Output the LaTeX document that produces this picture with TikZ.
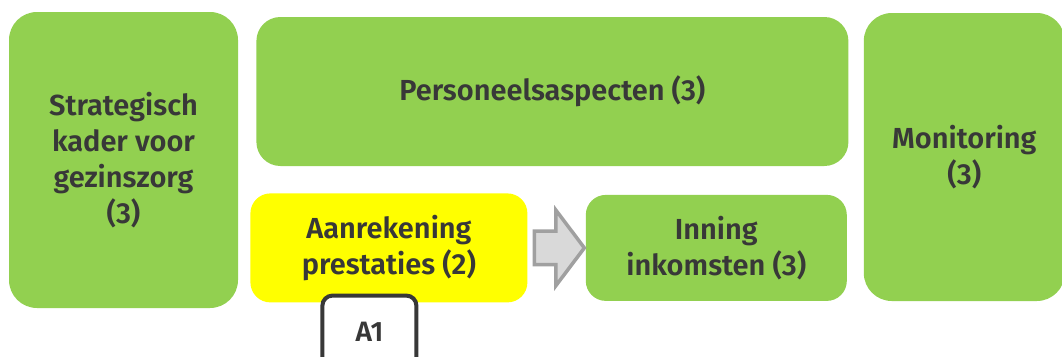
\documentclass[tikz,border=0pt]{standalone}
\usepackage{fontspec}
\setmainfont{Fira Sans}[BoldFont={Fira Sans SemiBold}]
\usetikzlibrary{positioning,shapes.arrows}

\definecolor{blokgroen}{HTML}{92D050}
\definecolor{blokgeel}{HTML}{FFFF00}
\definecolor{tekstgrijs}{HTML}{383838}
\definecolor{pijlrand}{HTML}{A0A0A0}
\definecolor{pijlvul}{HTML}{D9D9D9}

\tikzset{
  blok/.style={fill=blokgroen, rounded corners=28pt, inner sep=0pt,
    text=tekstgrijs, align=center,
    font=\fontsize{29}{36}\selectfont\bfseries},
  geelblok/.style={blok, fill=blokgeel, rounded corners=20pt},
  codeblok/.style={draw=tekstgrijs, line width=4pt, rounded corners=10pt,
    fill=white, text=tekstgrijs, font=\fontsize{28}{30}\selectfont\bfseries},
  blokpijl/.style={single arrow, draw=pijlrand, fill=pijlvul, line width=3.5pt,
    minimum height=50pt, inner xsep=0pt, inner ysep=15pt,
    single arrow head extend=21pt, single arrow tip angle=106}
}

\begin{document}
\begin{tikzpicture}[x=1pt,y=-1pt]
    \useasboundingbox (0,0) rectangle (1062,356);
    \node[blok, minimum width=229pt, minimum height=296pt] (strat) at (123.5,160)
        {Strategisch\\kader voor\\gezinszorg\\(3)};
    \node[blok, minimum width=592pt, minimum height=149pt, anchor=north west,
        rounded corners=24pt] (pers) at ([xshift=18pt,yshift=-5pt]strat.north east)
        {Personeelsaspecten (3)};
    \node[geelblok, minimum width=277pt, minimum height=109pt, anchor=north west]
        (aanr) at ([xshift=-6pt,yshift=-27pt]pers.south west)
        {Aanrekening\\prestaties (2)};
    \node[blok, minimum width=261pt, minimum height=106pt, anchor=west,
        rounded corners=20pt] (inning) at ([xshift=58pt]aanr.east)
        {Inning\\inkomsten (3)};
    \node[blok, minimum width=201pt, minimum height=288pt, anchor=north west]
        (monit) at ([xshift=15pt,yshift=4pt]pers.north east)
        {Monitoring\\(3)};
    \node[blokpijl, anchor=west] (pijl) at ([xshift=5pt]aanr.east) {};
    \node[codeblok, minimum width=94pt, minimum height=72pt, anchor=north]
        (a1) at ([xshift=-19.5pt,yshift=9pt]aanr.south) {A1};
\end{tikzpicture}
\end{document}
